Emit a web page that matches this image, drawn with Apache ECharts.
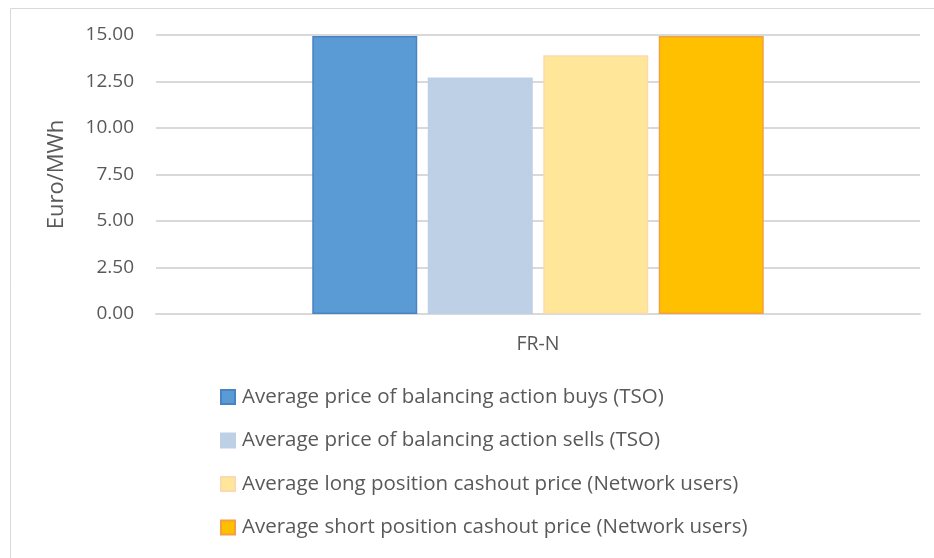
<!DOCTYPE html>
<html>
<head>
<meta charset="utf-8">
<script src="https://cdn.jsdelivr.net/npm/echarts@6/dist/echarts.min.js"></script>
<style>
  html, body { margin: 0; padding: 0; background: #fff; }
  #chart { width: 934px; height: 558px; }
</style>
</head>
<body>
<div id="chart"></div>
<script>
// カテゴリと系列
const categories = ['FR-N'];
const seriesNames = [
  'Average price of balancing action buys (TSO)',
  'Average price of balancing action sells (TSO)',
  'Average long position cashout price (Network users)',
  'Average short position cashout price (Network users)'
];
const buysTSO = [14.95];
const sellsTSO = [12.72];
const longCashout = [13.91];
const shortCashout = [14.95];
const yTicks = [0, 2.5, 5, 7.5, 10, 12.5, 15];

const fills = ['#5b9bd5', '#bdd0e6', '#ffe699', '#ffc000'];
const borders = ['#4a83c4', '#bdd0e6', '#fdd9b0', '#f4a040'];
const values = [buysTSO, sellsTSO, longCashout, shortCashout];

const font = "'Open Sans', 'Liberation Sans', sans-serif";
const chart = echarts.init(document.getElementById('chart'));

const option = {
  animation: false,
  textStyle: { fontFamily: font },
  graphic: [{
    type: 'rect',
    left: 8, top: 6,
    shape: { width: 1000, height: 1000 },
    style: { fill: 'none', stroke: '#d9d9d9', lineWidth: 1 },
    silent: true
  }],
  grid: { left: 156, right: 14, top: 35, height: 279, containLabel: false },
  legend: {
    orient: 'vertical',
    left: 220,
    top: 386,
    padding: 0,
    itemGap: 21.5,
    itemWidth: 14,
    itemHeight: 14,
    icon: 'rect',
    textStyle: { fontSize: 20.5, lineHeight: 22, color: '#595959', fontFamily: font, padding: [0, 0, 0, 2] },
    data: seriesNames
  },
  xAxis: {
    type: 'category',
    data: categories,
    axisLine: { lineStyle: { color: '#d9d9d9', width: 2 } },
    axisTick: { show: false },
    axisLabel: { color: '#595959', fontSize: 19.5, margin: 20 }
  },
  yAxis: {
    type: 'value',
    min: 0,
    max: 15,
    interval: 2.5,
    name: 'Euro/MWh',
    nameLocation: 'middle',
    nameGap: 88,
    nameTextStyle: { color: '#595959', fontSize: 22 },
    axisLine: { show: false },
    axisTick: { show: false },
    splitLine: { lineStyle: { color: '#d9d9d9', width: 2 } },
    axisLabel: {
      color: '#595959',
      fontSize: 19,
      margin: 22,
      formatter: v => yTicks.includes(v) ? v.toFixed(2) : ''
    }
  },
  series: seriesNames.map((name, i) => ({
    name,
    type: 'bar',
    data: values[i],
    barWidth: 105,
    barGap: '10%',
    itemStyle: { color: fills[i], borderColor: borders[i], borderWidth: 1.5 }
  }))
};

chart.setOption(option);
</script>
</body>
</html>
